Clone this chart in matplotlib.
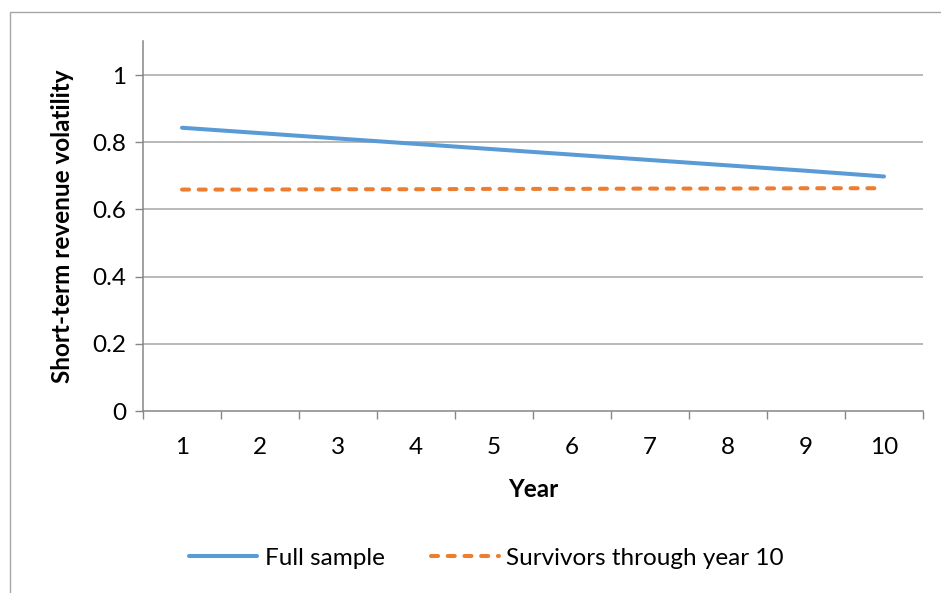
import matplotlib
matplotlib.use('Agg')
import matplotlib.pyplot as plt
from matplotlib.patches import Rectangle

plt.rcParams['font.family'] = ['Lato', 'DejaVu Sans']

# Values
years = [1, 2, 3, 4, 5, 6, 7, 8, 9, 10]
full_sample = [0.843, 0.827, 0.811, 0.795, 0.779, 0.763, 0.747, 0.731, 0.715, 0.698]
survivors = [0.659, 0.659, 0.660, 0.660, 0.661, 0.661, 0.662, 0.662, 0.663, 0.663]
y_ticks = [0, 0.2, 0.4, 0.6, 0.8, 1]
y_tick_labels = ['0', '0.2', '0.4', '0.6', '0.8', '1']

fs = 17.5

fig = plt.figure(figsize=(9.41, 5.93), dpi=100)
ax = fig.add_axes([143 / 941, 1 - 411 / 593, 780 / 941, 369.6 / 593])

# chart frame (only left and top edges visible in the crop)
fig.patches.append(Rectangle((10 / 941, -0.1), 1.2, 1 - 12 / 593 + 0.1,
                             transform=fig.transFigure, fill=False,
                             edgecolor='#a6a6a6', linewidth=1.0, zorder=0))

grid_color = '#a6a6a6'
for v in y_ticks[1:]:
    ax.axhline(v, color=grid_color, linewidth=1.1, zorder=1)

ax.plot(years, full_sample, color='#5b9bd5', linewidth=2.9,
        solid_capstyle='round', label='Full sample', zorder=3)
ax.plot(years, survivors, color='#ed7d31', linewidth=2.9,
        linestyle=(0, (1.75, 2.4)), dash_capstyle='round',
        label='Survivors through year 10', zorder=3)

ax.set_xlim(0.5, 10.5)
ax.set_ylim(0, 1.1)

ax.set_yticks(y_ticks)
ax.set_yticklabels(y_tick_labels)
ax.set_xticks(years)
ax.set_xticklabels([str(y) for y in years])
# category boundaries as tick marks
ax.set_xticks([y + 0.5 for y in [0] + years], minor=True)
ax.tick_params(axis='x', which='major', length=0, pad=19, labelsize=fs)
ax.tick_params(axis='x', which='minor', length=6, color='#868686', width=1)
ax.tick_params(axis='y', which='major', length=6, color='#868686', width=1,
               pad=6, labelsize=fs)

for side in ['top', 'right']:
    ax.spines[side].set_visible(False)
for side in ['left', 'bottom']:
    ax.spines[side].set_color('#868686')
    ax.spines[side].set_linewidth(1.1)

ax.set_xlabel('Year', fontsize=fs, fontweight='bold', labelpad=14)
ax.set_ylabel('Short-term revenue volatility', fontsize=fs, fontweight='bold', labelpad=13)

fig.legend(loc='center', bbox_to_anchor=(0.517, 1 - 558 / 593), ncol=2,
           frameon=False, fontsize=fs, handlelength=2.8, columnspacing=1.9,
           handletextpad=0.3)

fig.savefig('out.png', dpi=100)
